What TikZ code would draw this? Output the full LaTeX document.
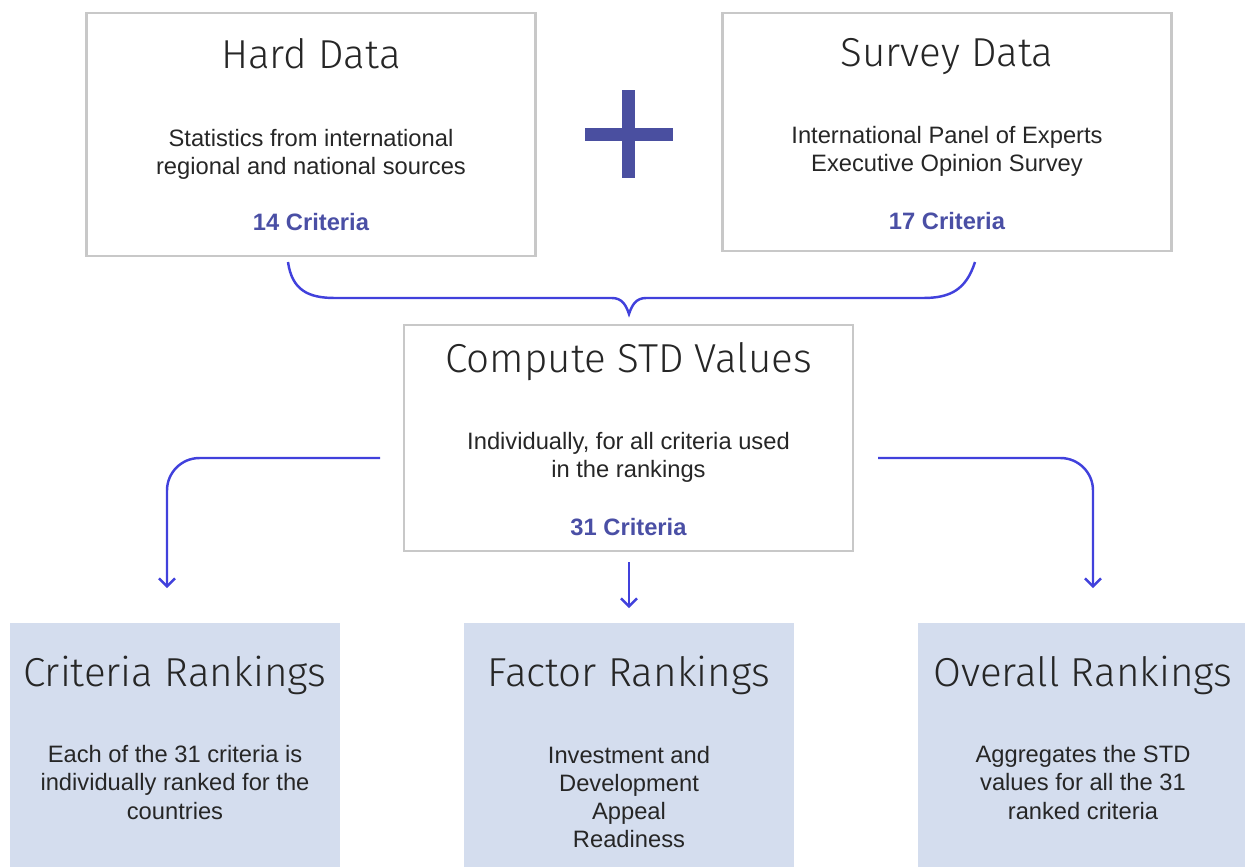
\documentclass[tikz,border=0pt]{standalone}
\usepackage{fontspec}
\setmainfont{Liberation Sans}
\newfontfamily\titlefont{Fira Sans Light}
\usetikzlibrary{arrows.meta}

\definecolor{boxline}{HTML}{C8C8C8}
\definecolor{boxfill}{HTML}{D4DDEE}
\definecolor{flowblue}{HTML}{4141DC}
\definecolor{critblue}{HTML}{4A4FA5}
\definecolor{plusblue}{HTML}{4A4FA0}

\begin{document}
\begin{tikzpicture}[x=0.02cm,y=-0.02cm,>={Straight Barb[length=4.5pt,width=9pt]},
    inbox/.style={draw=boxline,line width=1.2pt,minimum width=8.98cm},
    outbox/.style={fill=boxfill,minimum width=6.6cm,minimum height=4.88cm},
    title/.style={anchor=base,font=\titlefont\fontsize{23}{28}\selectfont,text=black!85},
    body/.style={align=center,font=\fontsize{13.5}{16}\selectfont,text=black!85},
    count/.style={font=\bfseries\fontsize{13.5}{16}\selectfont,text=critblue},
    flow/.style={draw=flowblue,line width=1.4pt}]
    \useasboundingbox (0,0) rectangle (1245,867);

    % top boxes
    \node[inbox,minimum height=4.86cm] (hard) at (311,134.5) {};
    \node[inbox,minimum height=4.76cm] (survey) at (947,132) {};
    \node[title] (hardT) at (311,68) {Hard Data};
    \node[body]  (hardB) at (311,154) {Statistics from international\\regional and national sources};
    \node[count] (hardC) at (311,222) {14 Criteria};
    \node[title] (survT) at (947,66) {Survey Data};
    \node[body]  (survB) at (947,151.5) {International Panel of Experts\\Executive Opinion Survey};
    \node[count] (survC) at (947,221) {17 Criteria};

    % plus sign
    \fill[plusblue] (585,128) rectangle (673,141);
    \fill[plusblue] (622,90) rectangle (635,178);

    % middle box
    \node[inbox,minimum height=4.52cm] (comp) at (628.5,438) {};
    \node[title] (compT) at (628.5,372) {Compute STD Values};
    \node[body]  (compB) at (628.5,457.5) {Individually, for all criteria used\\in the rankings};
    \node[count] (compC) at (628.5,527) {31 Criteria};

    % bottom boxes
    \node[outbox] (crit) at (175,745) {};
    \node[outbox] (fact) at (629,745) {};
    \node[outbox] (over) at (1083,745) {};
    \node[title] (critT) at (175,686) {Criteria Rankings};
    \node[body]  (critB) at (175,782.5) {Each of the 31 criteria is\\individually ranked for the\\countries};
    \node[title] (factT) at (629,686) {Factor Rankings};
    \node[body]  (factB) at (629,797) {Investment and\\Development\\Appeal\\Readiness};
    \node[title] (overT) at (1083,686) {Overall Rankings};
    \node[body]  (overB) at (1083,782.5) {Aggregates the STD\\values for all the 31\\ranked criteria};

    % connectors
    \coordinate (bl) at (288,262);
    \coordinate (br) at (975,262);
    \coordinate (bt) at (629,314);
    \coordinate (la) at (380,458);
    \coordinate (lb) at (167,588);
    \coordinate (ra) at (878,458);
    \coordinate (rb) at (1093,588);
    \coordinate (ma) at (629,562);
    \coordinate (mb) at (629,608);

    \draw[flow] (bl) .. controls (292,290) and (308,298) .. (335,298) -- (612,298)
        .. controls (622,298) and (626,305) .. (bt)
        .. controls (632,305) and (636,298) .. (646,298) -- (923,298)
        .. controls (950,298) and (966,290) .. (br);
    \draw[flow,->,rounded corners=0.65cm] (la) -| (lb);
    \draw[flow,->,rounded corners=0.65cm] (ra) -| (rb);
    \draw[flow,->] (ma) -- (mb);
\end{tikzpicture}
\end{document}
